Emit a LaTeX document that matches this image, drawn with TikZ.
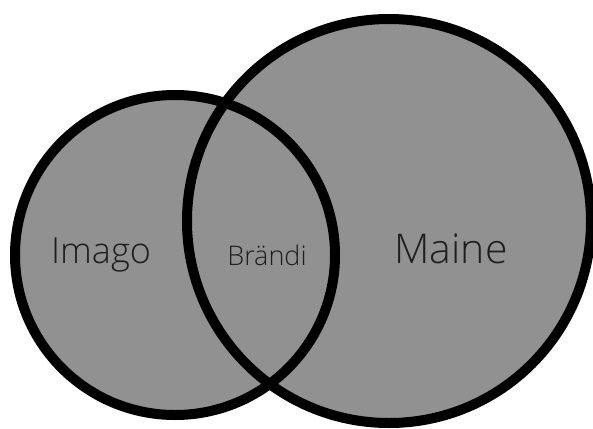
\documentclass[tikz,border=0pt]{standalone}
\usepackage{fontspec}
\setmainfont{Open Sans}[UprightFont=* Light]
\definecolor{vennfill}{HTML}{919191}
\definecolor{vtext}{HTML}{1E1E1E}
\tikzset{
  setcircle/.style={circle, draw=black, line width=10pt, fill=vennfill, inner sep=0pt, outer sep=0pt},
  setlabel/.style={anchor=base, inner sep=0pt, text=vtext}
}
\begin{document}
\begin{tikzpicture}[x=1pt,y=-1pt]
\useasboundingbox (0,0) rectangle (593,428);
% fills
\fill[vennfill] (389,221) circle (202);
\fill[vennfill] (175,255) circle (160);
% strokes
\node[setcircle, fill=none, minimum size=404pt] (maine) at (389,221) {};
\node[setcircle, fill=none, minimum size=320pt] (imago) at (175,255) {};
% labels
\node[setlabel, font=\fontsize{36}{40}\selectfont] (limago) at (101,263) {Imago};
\node[setlabel, font=\fontsize{27}{30}\selectfont] (lbrandi) at (267,265) {Brändi};
\node[setlabel, font=\fontsize{41}{44}\selectfont] (lmaine) at (451,263) {Maine};
\end{tikzpicture}
\end{document}
